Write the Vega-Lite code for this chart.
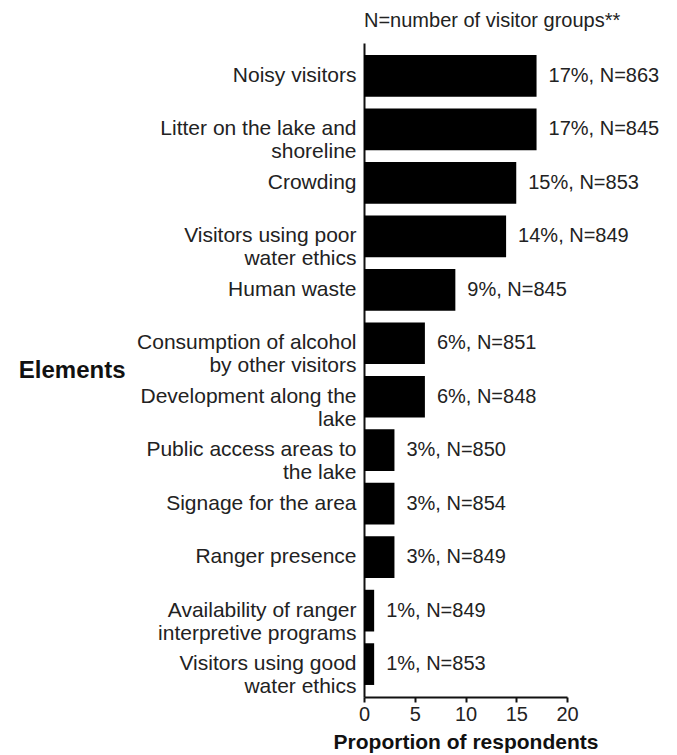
{
  "$schema": "https://vega.github.io/schema/vega-lite/v6.json",
  "width": 203,
  "height": 654,
  "autosize": {"type": "none"},
  "padding": {"left": 364, "top": 43, "right": 110, "bottom": 58},
  "background": "white",
  "title": {
    "text": "N=number of visitor groups**",
    "anchor": "start",
    "frame": "group",
    "fontSize": 20,
    "font": "Liberation Sans",
    "fontWeight": "normal",
    "color": "#222",
    "offset": 12
  },
  "config": {
    "view": {"stroke": null},
    "font": "Liberation Sans"
  },
  "data": {
    "values": [
      {"element": "Noisy visitors", "pct": 17, "label": "17%, N=863"},
      {"element": "Litter on the lake and|shoreline", "pct": 17, "label": "17%, N=845"},
      {"element": "Crowding", "pct": 15, "label": "15%, N=853"},
      {"element": "Visitors using poor|water ethics", "pct": 14, "label": "14%, N=849"},
      {"element": "Human waste", "pct": 9, "label": "9%, N=845"},
      {"element": "Consumption of alcohol|by other visitors", "pct": 6, "label": "6%, N=851"},
      {"element": "Development along the|lake", "pct": 6, "label": "6%, N=848"},
      {"element": "Public access areas to|the lake", "pct": 3, "label": "3%, N=850"},
      {"element": "Signage for the area", "pct": 3, "label": "3%, N=854"},
      {"element": "Ranger presence", "pct": 3, "label": "3%, N=849"},
      {"element": "Availability of ranger|interpretive programs", "pct": 1, "label": "1%, N=849"},
      {"element": "Visitors using good|water ethics", "pct": 1, "label": "1%, N=853"}
    ]
  },
  "encoding": {
    "y": {
      "field": "element",
      "type": "nominal",
      "sort": null,
      "scale": {"paddingInner": 0.22, "paddingOuter": 0.225},
      "axis": {
        "title": "Elements",
        "titleAngle": 0,
        "titleAlign": "right",
        "titleBaseline": "middle",
        "titleX": -239,
        "titleY": 327,
        "titleFontSize": 24,
        "titleFontWeight": "bold",
        "titleColor": "#111",
        "labelExpr": "split(datum.label, '|')",
        "labelFontSize": 21,
        "labelLineHeight": 23,
        "labelColor": "#222",
        "labelPadding": 8,
        "labelLimit": 400,
        "ticks": false,
        "domainColor": "#111",
        "domainWidth": 2
      }
    }
  },
  "layer": [
    {
      "mark": {"type": "bar", "color": "#000"},
      "encoding": {
        "x": {
          "field": "pct",
          "type": "quantitative",
          "scale": {"domain": [0, 20], "nice": false},
          "axis": {
            "title": "Proportion of respondents",
            "values": [0, 5, 10, 15, 20],
            "grid": false,
            "titleFontSize": 21,
            "titleFontWeight": "bold",
            "titleColor": "#111",
            "titlePadding": 7,
            "labelFontSize": 20,
            "labelColor": "#222",
            "labelPadding": 2,
            "tickSize": 5,
            "tickColor": "#111",
            "tickWidth": 2,
            "domainColor": "#111",
            "domainWidth": 2,
            "labelFlush": false
          }
        }
      }
    },
    {
      "mark": {"type": "text", "align": "left", "baseline": "middle", "dx": 12, "fontSize": 20, "color": "#222"},
      "encoding": {
        "x": {"field": "pct", "type": "quantitative"},
        "text": {"field": "label"}
      }
    }
  ]
}
